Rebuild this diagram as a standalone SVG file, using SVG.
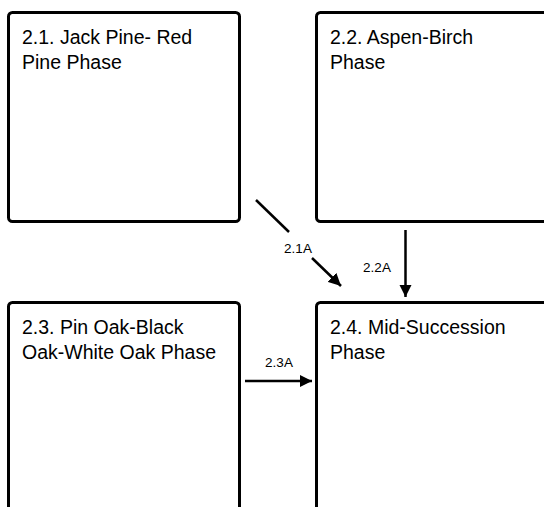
<svg xmlns="http://www.w3.org/2000/svg" width="544" height="507" viewBox="0 0 544 507">
<style>
.box{fill:#fff;stroke:#000;stroke-width:3}
.t{font-family:"Liberation Sans",Arial,sans-serif;font-size:19.5px;fill:#000}
.l{font-family:"Liberation Sans",Arial,sans-serif;font-size:13.5px;fill:#000;text-anchor:middle}
.c{stroke:#000;stroke-width:2.5;fill:none}
</style>
<defs>
<marker id="ah" viewBox="0 0 10 10" refX="10" refY="5" markerWidth="5" markerHeight="5" orient="auto" markerUnits="strokeWidth">
<path d="M0,0 L10,5 L0,10 Z" fill="#000"/>
</marker>
</defs>
<rect width="544" height="507" fill="#fff"/>
<g id="n21"><rect class="box" x="8.5" y="12.5" width="231" height="209" rx="4"/>
<text class="t" x="22" y="44">2.1. Jack Pine- Red</text><text class="t" x="22" y="68.5">Pine Phase</text></g>
<g id="n22"><rect class="box" x="316.5" y="12.5" width="240" height="209" rx="4"/>
<text class="t" x="330" y="44">2.2. Aspen-Birch</text><text class="t" x="330" y="68.5">Phase</text></g>
<g id="n23"><rect class="box" x="8.5" y="302.5" width="231" height="220" rx="4"/>
<text class="t" x="22" y="334">2.3. Pin Oak-Black</text><text class="t" x="22" y="358.5">Oak-White Oak Phase</text></g>
<g id="n24"><rect class="box" x="316.5" y="302.5" width="240" height="220" rx="4"/>
<text class="t" x="330" y="334">2.4. Mid-Succession</text><text class="t" x="330" y="358.5">Phase</text></g>
<g id="connectors">
<path class="c" d="M256,200 L289,232"/>
<path class="c" d="M312,258 L341,286" marker-end="url(#ah)"/>
<text class="l" x="298" y="253">2.1A</text>
<path class="c" d="M405.5,230 L405.5,297" marker-end="url(#ah)"/>
<text class="l" x="377" y="272">2.2A</text>
<path class="c" d="M245,381 L312,381" marker-end="url(#ah)"/>
<text class="l" x="279" y="367">2.3A</text>
</g>
</svg>
